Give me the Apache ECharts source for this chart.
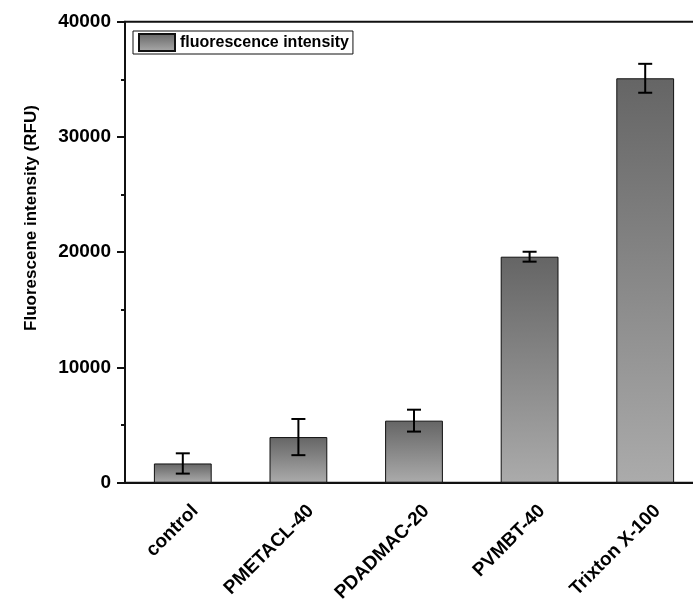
<!DOCTYPE html>
<html>
<head>
<meta charset="utf-8">
<script src="https://cdn.jsdelivr.net/npm/echarts@6/dist/echarts.min.js"></script>
<style>
  html, body { margin: 0; padding: 0; background: #fff; overflow: hidden; }
  /* the plot frame runs a little past the right edge of the window */
  #chart { width: 703px; height: 605px; }
</style>
</head>
<body>
<div id="chart"></div>
<script>
// Samples and measured fluorescence (mean and standard deviation, RFU)
const categories = ['control', 'PMETACL-40', 'PDADMAC-20', 'PVMBT-40', 'Trixton X-100'];
const intensity = [1670, 3960, 5385, 19610, 35090];
const deviation = [880, 1570, 950, 430, 1255];
const yTicks = [0, 10000, 20000, 30000, 40000];

const FONT = '"Liberation Sans", Arial, Helvetica, sans-serif';
const chart = echarts.init(document.getElementById('chart'), null, { renderer: 'canvas' });

const barFill = new echarts.graphic.LinearGradient(0, 0, 0, 1, [
  { offset: 0, color: '#656565' },
  { offset: 1, color: '#ababab' }
]);

const errorData = intensity.map((v, i) => [i, v - deviation[i], v + deviation[i]]);

chart.setOption({
  animation: false,
  backgroundColor: '#fff',
  textStyle: { fontFamily: FONT },
  grid: {
    left: 125, right: 0, top: 21.7, bottom: 121.5,
    show: true, borderColor: '#111', borderWidth: 2, backgroundColor: 'transparent'
  },
  legend: {
    data: ['fluorescence intensity'],
    left: 133, top: 31,
    orient: 'horizontal',
    padding: [2, 4, 2, 5],
    borderColor: '#111', borderWidth: 1,
    itemWidth: 36, itemHeight: 17,
    icon: 'rect',
    textStyle: { fontFamily: FONT, fontWeight: 'bold', fontSize: 16, color: '#000' }
  },
  xAxis: {
    type: 'category',
    data: categories,
    axisLine: { lineStyle: { color: '#111', width: 2 } },
    axisTick: { alignWithLabel: true, length: 8, lineStyle: { color: '#111', width: 2 } },
    axisLabel: {
      rotate: 45, margin: 13, interval: 0,
      verticalAlign: 'top', padding: [8, 0, 0, 0],
      fontFamily: FONT, fontWeight: 'bold', fontSize: 19, color: '#000'
    },
    splitLine: { show: false }
  },
  yAxis: {
    type: 'value',
    min: yTicks[0], max: yTicks[yTicks.length - 1], interval: 10000,
    axisLine: { show: true, lineStyle: { color: '#111', width: 2 } },
    axisTick: { show: true, length: 8, lineStyle: { color: '#111', width: 2 } },
    minorTick: { show: true, splitNumber: 2, length: 4, lineStyle: { color: '#111', width: 2 } },
    axisLabel: {
      margin: 14, fontFamily: FONT, fontWeight: 'bold', fontSize: 19, color: '#000',
      formatter: function (v) { return String(v); }
    },
    splitLine: { show: false }
  },
  graphic: [{
    type: 'text',
    x: 31, y: 218,
    rotation: Math.PI / 2,
    style: {
      text: 'Fluorescene intensity (RFU)',
      font: 'bold 17px ' + FONT,
      fill: '#000',
      align: 'center',
      verticalAlign: 'middle'
    }
  }],
  series: [
    {
      name: 'fluorescence intensity',
      type: 'bar',
      data: intensity,
      barWidth: '50%',
      itemStyle: { color: barFill, borderColor: '#111', borderWidth: 1 }
    },
    {
      name: 'sd',
      type: 'custom',
      data: errorData,
      z: 10,
      renderItem: function (params, api) {
        const x = api.value(0);
        const lo = api.coord([x, api.value(1)]);
        const hi = api.coord([x, api.value(2)]);
        const half = 7;
        const style = { stroke: '#000', lineWidth: 2 };
        return {
          type: 'group',
          children: [
            { type: 'line', shape: { x1: hi[0], y1: hi[1], x2: lo[0], y2: lo[1] }, style: style },
            { type: 'line', shape: { x1: hi[0] - half, y1: hi[1], x2: hi[0] + half, y2: hi[1] }, style: style },
            { type: 'line', shape: { x1: lo[0] - half, y1: lo[1], x2: lo[0] + half, y2: lo[1] }, style: style }
          ]
        };
      }
    }
  ]
});
</script>
</body>
</html>
